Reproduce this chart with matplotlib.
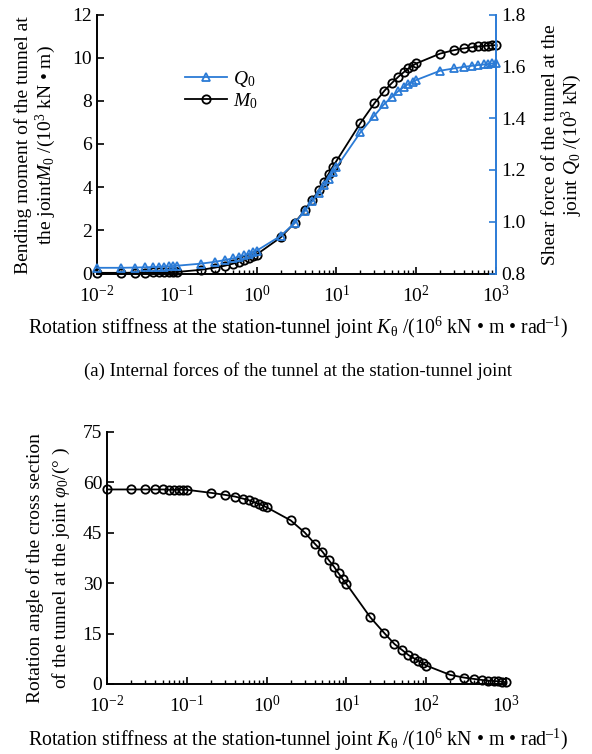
import matplotlib
matplotlib.use("Agg")
import matplotlib.pyplot as plt

plt.rcParams['font.family'] = ['Liberation Serif', 'DejaVu Serif']
plt.rcParams['mathtext.fontset'] = 'custom'
plt.rcParams['mathtext.rm'] = 'Liberation Serif'
plt.rcParams['mathtext.it'] = 'Liberation Serif:italic'
plt.rcParams['mathtext.bf'] = 'Liberation Serif:bold'

# rotation stiffness K (10^6 kN*m/rad)
K = [0.01, 0.02, 0.03, 0.04, 0.05, 0.06, 0.07, 0.08, 0.09, 0.1,
     0.2, 0.3, 0.4, 0.5, 0.6, 0.7, 0.8, 0.9, 1,
     2, 3, 4, 5, 6, 7, 8, 9, 10,
     20, 30, 40, 50, 60, 70, 80, 90, 100,
     200, 300, 400, 500, 600, 700, 800, 900, 1000]

# bending moment M0 (10^3 kN*m)
M0 = [0.03, 0.03, 0.04, 0.04, 0.05, 0.05, 0.06, 0.06, 0.07, 0.07,
      0.17, 0.27, 0.36, 0.45, 0.54, 0.63, 0.72, 0.80, 0.88,
      1.67, 2.35, 2.92, 3.42, 3.85, 4.25, 4.62, 4.95, 5.21,
      6.97, 7.89, 8.47, 8.84, 9.12, 9.33, 9.50, 9.63, 9.73,
      10.19, 10.35, 10.43, 10.48, 10.52, 10.54, 10.56, 10.57, 10.58]

# shear force Q0 (10^3 kN)
Q0 = [0.822, 0.822, 0.823, 0.824, 0.825, 0.826, 0.827, 0.828, 0.829, 0.830,
      0.838, 0.845, 0.852, 0.858, 0.864, 0.870, 0.876, 0.882, 0.888,
      0.945, 0.995, 1.040, 1.080, 1.110, 1.140, 1.165, 1.190, 1.210,
      1.345, 1.410, 1.455, 1.483, 1.505, 1.520, 1.532, 1.540, 1.547,
      1.583, 1.592, 1.598, 1.602, 1.605, 1.607, 1.609, 1.611, 1.613]

# rotation angle phi0 (deg)
phi0 = [57.9, 57.9, 57.9, 57.9, 57.9, 57.8, 57.8, 57.8, 57.8, 57.8,
        56.9, 56.3, 55.8, 55.2, 54.7, 54.1, 53.6, 53.1, 52.6,
        48.7, 45.1, 41.8, 39.4, 36.9, 34.9, 32.9, 31.2, 29.8,
        19.8, 15.1, 11.9, 10.1, 8.6, 7.7, 6.9, 6.2, 5.5,
        2.7, 1.9, 1.5, 1.2, 1.0, 0.9, 0.8, 0.7, 0.5]

blue = '#2b7bd6'
W, H = 592, 754
fs = 14
xlab = r'Rotation stiffness at the station-tunnel joint $K_{\mathrm{θ}}$ /(10$^6$ kN • m • rad$^{–1}$)'

def px(x0, y0, x1, y1):
	# pixel box (top-left origin) -> figure fraction
	return [x0 / W, 1 - y1 / H, (x1 - x0) / W, (y1 - y0) / H]

def styleAxes(ax):
	ax.set_xscale('log')
	ax.set_xlim(0.01, 1000)
	ax.tick_params(which='both', direction='in', labelsize=fs)
	ax.tick_params(which='major', length=5, width=1.2)
	ax.tick_params(which='minor', length=3, width=1.0)
	ax.tick_params(axis='x', pad=8)
	ax.spines['top'].set_visible(False)
	for s in ax.spines.values():
		s.set_linewidth(1.4)

fig = plt.figure(figsize=(W / 100, H / 100), dpi=100)

# (a) internal forces
ax1 = fig.add_axes(px(97, 14.5, 496, 273.5))
styleAxes(ax1)
ax1.spines['right'].set_visible(False)
ax1.set_ylim(0, 12)
ax1.set_yticks([0, 2, 4, 6, 8, 10, 12])
l2, = ax1.plot(K, M0, color='black', lw=1.3, marker='o', ms=6, mfc='none', mew=1.3, clip_on=False, zorder=3)

ax2 = ax1.twinx()
ax2.set_xscale('log')
ax2.set_xlim(0.01, 1000)
ax2.set_ylim(0.8, 1.8)
ax2.set_yticks([0.8, 1.0, 1.2, 1.4, 1.6, 1.8])
ax2.set_yticklabels(['0.8', '1.0', '1.2', '1.4', '1.6', '1.8'])
ax2.tick_params(axis='y', direction='in', labelsize=fs, color=blue, length=5, width=1.2)
for s in ['top', 'left', 'bottom']:
	ax2.spines[s].set_visible(False)
ax2.spines['right'].set_color(blue)
ax2.spines['right'].set_linewidth(1.4)
l1, = ax2.plot(K, Q0, color=blue, lw=1.3, marker='^', ms=6, mfc='none', mew=1.3, clip_on=False, zorder=3)

ax1.legend([l1, l2], [r'$Q_0$', r'$M_0$'], loc='upper left', bbox_to_anchor=(0.2, 0.82),
		   frameon=False, fontsize=fs, handlelength=2.2, handletextpad=0.3, labelspacing=0.1,
		   borderaxespad=0)

fig.text(36 / W, 1 - 145 / H, 'Bending moment of the tunnel at\nthe joint$M_0$ /(10$^3$ kN • m)',
		 rotation=90, ha='center', va='center', fontsize=fs, linespacing=1.05, multialignment='center')
fig.text(563 / W, 1 - 145 / H, 'Shear force of the tunnel at the\njoint $Q_0$ /(10$^3$ kN)',
		 rotation=90, ha='center', va='center', fontsize=fs, linespacing=1.05, multialignment='center')
fig.text(298 / W, 1 - 328 / H, xlab, ha='center', va='center', fontsize=14.3)
fig.text(298 / W, 1 - 371 / H, '(a) Internal forces of the tunnel at the station-tunnel joint',
		 ha='center', va='center', fontsize=13.5)

# (b) rotation angle
ax3 = fig.add_axes(px(107, 432, 506, 684))
styleAxes(ax3)
ax3.spines['right'].set_visible(False)
ax3.set_ylim(0, 75)
ax3.set_yticks([0, 15, 30, 45, 60, 75])
ax3.plot(K, phi0, color='black', lw=1.3, marker='o', ms=6, mfc='none', mew=1.3, clip_on=False, zorder=3)

fig.text(49 / W, 1 - 568 / H, 'Rotation angle of the cross section\nof the tunnel at the joint $\\varphi_0$/(° )',
		 rotation=90, ha='center', va='center', fontsize=fs, linespacing=1.45, multialignment='center')
fig.text(298 / W, 1 - 740 / H, xlab, ha='center', va='center', fontsize=14.3)

fig.savefig('out.png', dpi=100)
